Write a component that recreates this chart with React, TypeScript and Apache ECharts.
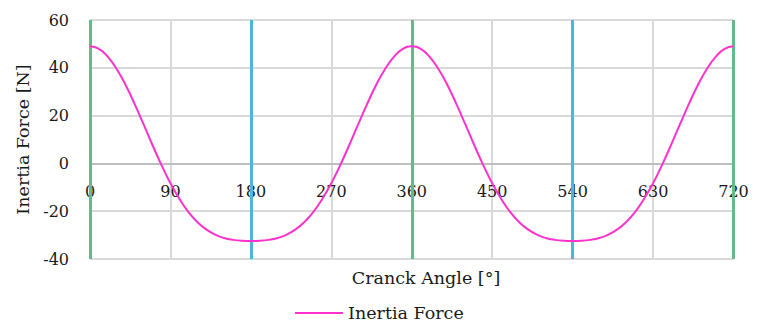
import React, { useEffect, useRef } from "react";
import * as echarts from "echarts";

const angles: number[] = [
  0, 10, 20, 30, 40, 50, 60, 70, 80, 90, 100, 110, 120, 130, 140, 150, 160, 170, 180,
  190, 200, 210, 220, 230, 240, 250, 260, 270, 280, 290, 300, 310, 320, 330, 340, 350, 360,
  370, 380, 390, 400, 410, 420, 430, 440, 450, 460, 470, 480, 490, 500, 510, 520, 530, 540,
  550, 560, 570, 580, 590, 600, 610, 620, 630, 640, 650, 660, 670, 680, 690, 700, 710, 720,
];
const inertiaForce: number[] = [
  49.0, 47.9, 44.6, 39.4, 32.7, 24.8, 16.3, 7.6, -0.7, -8.3, -14.8, -20.3, -24.5, -27.6, -29.8, -31.2, -32.0, -32.4, -32.5,
  -32.4, -32.0, -31.2, -29.8, -27.6, -24.5, -20.3, -14.8, -8.3, -0.7, 7.6, 16.3, 24.8, 32.7, 39.4, 44.6, 47.9, 49.0,
  47.9, 44.6, 39.4, 32.7, 24.8, 16.3, 7.6, -0.7, -8.3, -14.8, -20.3, -24.5, -27.6, -29.8, -31.2, -32.0, -32.4, -32.5,
  -32.4, -32.0, -31.2, -29.8, -27.6, -24.5, -20.3, -14.8, -8.3, -0.7, 7.6, 16.3, 24.8, 32.7, 39.4, 44.6, 47.9, 49.0,
];
const greenLines: number[] = [0, 360, 720];
const blueLines: number[] = [180, 540];
const seriesName = "Inertia Force";
const xTitle = "Cranck Angle [°]";
const yTitle = "Inertia Force [N]";

const FONT = "DejaVu Serif";
const Y_MIN = -40;
const Y_MAX = 60;
const GRID_TOP = 20;
const GRID_BOTTOM = 66;
const CH = 325;

export default function App() {
  const ref = useRef<HTMLDivElement>(null);
  useEffect(() => {
    if (!ref.current) return;
    const chart = echarts.init(ref.current, undefined, { renderer: "svg" });
    const textStyle = { fontFamily: FONT, fontSize: 16, color: "#1a1a1a" };
    const titleStyle = { fontFamily: FONT, fontSize: 17.5, color: "#1a1a1a" };
    const plotH = CH - GRID_TOP - GRID_BOTTOM;
    const zeroOffset = -plotH * (0 - Y_MIN) / (Y_MAX - Y_MIN);
    chart.setOption({
      animation: false,
      textStyle: { fontFamily: FONT },
      grid: { left: 90, right: 45.5, top: GRID_TOP, bottom: GRID_BOTTOM, containLabel: false },
      xAxis: {
        type: "value",
        min: 0,
        max: 720,
        interval: 90,
        position: "bottom",
        offset: zeroOffset,
        axisLine: { onZero: false, lineStyle: { color: "#bfbfbf", width: 2 } },
        axisTick: { show: false },
        axisLabel: { ...textStyle, margin: 20 },
        splitLine: { show: true, lineStyle: { color: "#d9d9d9", width: 2 } },
      },
      yAxis: {
        type: "value",
        min: Y_MIN,
        max: Y_MAX,
        interval: 20,
        name: yTitle,
        nameLocation: "middle",
        nameGap: 57,
        nameTextStyle: titleStyle,
        axisLine: { show: false },
        axisTick: { show: false },
        axisLabel: { ...textStyle, margin: 21 },
        splitLine: { show: true, lineStyle: { color: "#d9d9d9", width: 2 } },
      },
      legend: {
        left: 290,
        top: 299,
        itemWidth: 48,
        itemHeight: 2,
        itemGap: 5,
        icon: "rect",
        textStyle: titleStyle,
        data: [seriesName],
      },
      graphic: [
        {
          type: "text",
          x: 426,
          y: 278,
          style: {
            text: xTitle,
            fontFamily: FONT,
            fontSize: 17.5,
            fill: "#1a1a1a",
            textAlign: "center",
            textVerticalAlign: "middle",
          },
        },
      ],
      series: [
        {
          name: seriesName,
          type: "line",
          smooth: true,
          symbol: "none",
          data: angles.map((a, i) => [a, inertiaForce[i]]),
          lineStyle: { color: "#ff33cc", width: 2 },
          itemStyle: { color: "#ff33cc" },
          z: 5,
          markLine: {
            silent: true,
            symbol: "none",
            label: { show: false },
            data: [
              ...greenLines.map((v) => ({ xAxis: v, lineStyle: { color: "#60bd8a", width: 3, type: "solid" } })),
              ...blueLines.map((v) => ({ xAxis: v, lineStyle: { color: "#4cb6de", width: 3, type: "solid" } })),
            ],
          },
        },
      ],
    });
    return () => chart.dispose();
  }, []);
  return <div ref={ref} style={{ width: 779, height: 325, position: "absolute", left: 0, top: 0 }} />;
}
